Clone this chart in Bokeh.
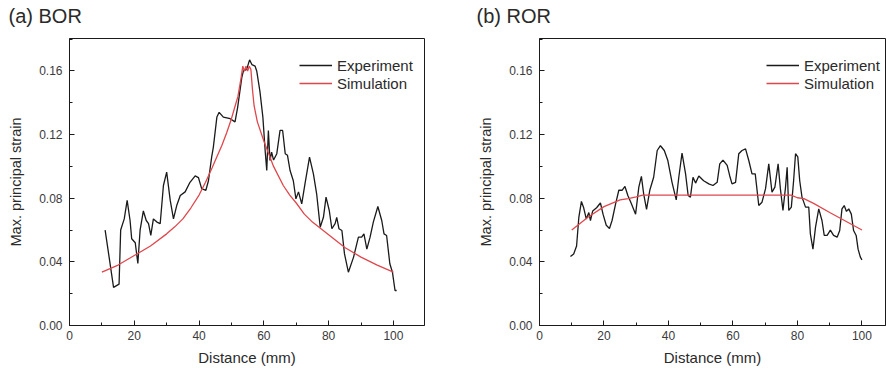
from bokeh.plotting import figure
from bokeh.layouts import row
from bokeh.models import (FixedTicker, PrintfTickFormatter, Legend, LegendItem, Range1d, Title)
from bokeh.embed import file_html
from bokeh.resources import INLINE

# ---------------- data ----------------
bor_exp_x = [11.0, 13.6, 15.3, 15.8, 16.9, 17.8, 18.7, 19.2, 20.3, 21.1, 21.8, 22.8, 23.7, 24.4, 25.1, 25.9,
             27.0, 28.0, 29.0, 30.0, 31.1, 32.1, 33.1, 34.2, 35.7, 37.2, 38.8, 39.8, 40.8, 42.1, 42.9, 43.9,
             44.4, 45.5, 46.2, 47.5, 49.6, 51.1, 51.9, 53.2, 53.7, 54.7, 55.6, 56.3, 57.3, 57.8, 58.8, 59.7,
             60.4, 60.9, 61.4, 61.9, 62.4, 63.0, 64.0, 65.0, 65.8, 66.6, 67.3, 68.1, 69.1, 69.9, 70.7, 71.7,
             72.7, 74.1, 75.3, 76.3, 77.4, 78.4, 79.2, 80.2, 81.0, 82.0, 82.5, 83.2, 84.1, 84.9, 86.1, 87.7,
             89.2, 90.2, 90.9, 91.8, 92.8, 93.8, 95.2, 96.4, 97.1, 97.9, 98.9, 99.7, 100.5, 101.0]
bor_exp_y = [0.060, 0.024, 0.026, 0.060, 0.067, 0.0786, 0.066, 0.0545, 0.052, 0.039, 0.060, 0.072, 0.066, 0.064,
             0.0566, 0.067, 0.065, 0.064, 0.088, 0.0964, 0.0786, 0.067, 0.0754, 0.0817, 0.084, 0.090, 0.094,
             0.093, 0.086, 0.085, 0.091, 0.106, 0.112, 0.131, 0.134, 0.131, 0.130, 0.128, 0.137, 0.156, 0.160,
             0.161, 0.167, 0.164, 0.163, 0.160, 0.147, 0.131, 0.110, 0.0974, 0.1226, 0.1037, 0.109, 0.104,
             0.108, 0.1226, 0.1226, 0.108, 0.107, 0.0974, 0.091, 0.0796, 0.084, 0.0765, 0.089, 0.1058, 0.0953,
             0.0828, 0.0618, 0.068, 0.0807, 0.0723, 0.0608, 0.064, 0.068, 0.0608, 0.0597, 0.045, 0.0335, 0.043,
             0.0555, 0.0555, 0.0576, 0.048, 0.0555, 0.065, 0.0748, 0.066, 0.0576, 0.0566, 0.0388, 0.0335,
             0.022, 0.022]

bor_sim_x = [10, 15, 20, 25, 30, 32.5, 35, 37.5, 40, 42, 44, 45.5, 47, 48.5, 50, 51, 52, 53, 53.5, 54, 54.5,
             55, 55.5, 56, 56.5, 57, 58, 60, 61.5, 63, 66, 68, 70, 72.5, 75, 80, 85, 90, 95, 100]
bor_sim_y = [0.0335, 0.038, 0.044, 0.050, 0.0576, 0.062, 0.067, 0.074, 0.082, 0.090, 0.099, 0.106, 0.113,
             0.121, 0.130, 0.137, 0.144, 0.156, 0.163, 0.160, 0.163, 0.160, 0.163, 0.161, 0.148, 0.138, 0.128,
             0.116, 0.108, 0.100, 0.088, 0.082, 0.077, 0.070, 0.065, 0.057, 0.049, 0.043, 0.038, 0.0335]

ror_exp_x = [9.6, 10.6, 11.5, 12.2, 13.0, 13.7, 14.5, 15.3, 15.8, 16.5, 17.7, 18.9, 19.7, 20.7, 21.7, 22.5,
             23.6, 24.6, 25.6, 26.5, 27.4, 28.5, 29.8, 30.8, 31.6, 32.3, 33.2, 34.2, 35.4, 36.5, 37.5, 38.7,
             39.8, 41.1, 42.4, 43.2, 44.2, 45.3, 46.1, 46.8, 47.6, 48.4, 49.4, 50.9, 52.5, 53.8, 55.1, 55.9,
             56.9, 58.2, 59.0, 59.7, 60.8, 61.8, 62.8, 63.9, 64.9, 65.9, 66.9, 68.0, 69.0, 70.1, 71.1, 72.1,
             73.0, 74.0, 74.7, 75.5, 76.3, 76.8, 77.3, 78.1, 78.8, 79.4, 80.1, 80.7, 81.4, 82.5, 83.5, 84.0,
             84.8, 85.6, 86.6, 87.6, 88.3, 89.2, 90.2, 91.2, 92.3, 93.1, 93.8, 94.5, 95.2, 95.9, 96.7, 97.4,
             98.2, 98.8, 99.5, 100.0]
ror_exp_y = [0.0434, 0.045, 0.050, 0.068, 0.078, 0.074, 0.067, 0.071, 0.066, 0.072, 0.074, 0.077, 0.070, 0.063,
             0.061, 0.066, 0.0765, 0.085, 0.085, 0.0874, 0.0817, 0.0765, 0.070, 0.087, 0.0937, 0.0828, 0.073,
             0.085, 0.0932, 0.110, 0.113, 0.110, 0.1037, 0.090, 0.079, 0.0932, 0.1083, 0.0953, 0.0817, 0.0807,
             0.0932, 0.0895, 0.094, 0.091, 0.089, 0.088, 0.090, 0.1016, 0.104, 0.1006, 0.094, 0.089, 0.090,
             0.108, 0.110, 0.111, 0.1037, 0.0953, 0.0953, 0.0754, 0.0775, 0.086, 0.1016, 0.0838, 0.087, 0.1016,
             0.086, 0.0723, 0.087, 0.0995, 0.0723, 0.0744, 0.091, 0.108, 0.106, 0.091, 0.0807, 0.0744, 0.0744,
             0.0576, 0.048, 0.0618, 0.0733, 0.066, 0.0566, 0.0566, 0.060, 0.0566, 0.0555, 0.0597, 0.0733,
             0.0754, 0.0717, 0.0733, 0.070, 0.0597, 0.0566, 0.048, 0.043, 0.0413]

ror_sim_x = [10, 15, 20, 25, 27.5, 30, 32, 40, 50, 60, 70, 78, 80, 82, 85, 90, 95, 100]
ror_sim_y = [0.060, 0.068, 0.0747, 0.079, 0.0798, 0.0808, 0.082, 0.082, 0.082, 0.082, 0.082, 0.082, 0.0803,
             0.0797, 0.0768, 0.071, 0.0655, 0.060]

x_major = [0, 20, 40, 60, 80, 100]
x_minor = [10, 30, 50, 70, 90, 110]
y_major = [0.00, 0.04, 0.08, 0.12, 0.16]
y_minor = [0.02, 0.06, 0.10, 0.14, 0.18]

panel_titles = ["(a) BOR", "(b) ROR"]
series_names = ["Experiment", "Simulation"]
x_title = "Distance (mm)"
y_title = "Max. principal strain"

FONT = "Liberation Sans"
TXT = "#2a2a2a"
BLACK = "#1a1a1a"
RED = "#e0474c"


def make_panel(title, ex, ey, sx, sy, x_end, border_left, border_right, leg_x, title_offset):
    p = figure(width=443, height=371, output_backend="svg", toolbar_location=None,
               x_range=Range1d(0, x_end), y_range=Range1d(0, 0.1804),
               min_border_left=border_left, min_border_right=border_right,
               min_border_top=38, min_border_bottom=46, title=title)
    p.title.align = "left"
    p.title.offset = title_offset
    p.title.text_font = FONT
    p.title.text_font_size = "20px"
    p.title.text_font_style = "normal"
    p.title.text_color = TXT
    p.title.standoff = 4
    p.title.vertical_align = "middle"
    # small spacer between the panel title and the frame
    p.add_layout(Title(text=" ", text_font_size="1px", standoff=6), "above")

    p.xgrid.visible = False
    p.ygrid.visible = False
    p.outline_line_color = BLACK
    p.outline_line_width = 1
    p.background_fill_color = "white"
    p.border_fill_color = "white"

    for ax in (p.xaxis[0], p.yaxis[0]):
        ax.axis_line_color = BLACK
        ax.major_tick_line_color = BLACK
        ax.minor_tick_line_color = BLACK
        ax.major_tick_in = 5
        ax.major_tick_out = 0
        ax.minor_tick_in = 3
        ax.minor_tick_out = 0
        ax.major_label_text_font = FONT
        ax.major_label_text_font_size = "12px"
        ax.major_label_text_color = "#3a3a3a"
        ax.axis_label_text_font = FONT
        ax.axis_label_text_font_style = "normal"
        ax.axis_label_text_color = TXT

    p.xaxis.ticker = FixedTicker(ticks=x_major, minor_ticks=x_minor)
    p.yaxis.ticker = FixedTicker(ticks=y_major, minor_ticks=y_minor)
    p.yaxis.formatter = PrintfTickFormatter(format="%.2f")
    p.xaxis.major_label_standoff = 5
    p.yaxis.major_label_standoff = 7
    p.xaxis.axis_label = x_title
    p.yaxis.axis_label = y_title
    p.xaxis.axis_label_text_font_size = "15px"
    p.yaxis.axis_label_text_font_size = "14.5px"
    p.xaxis.axis_label_standoff = 6
    p.yaxis.axis_label_standoff = 12

    r_exp = p.line(ex, ey, line_color=BLACK, line_width=1.3)
    r_sim = p.line(sx, sy, line_color=RED, line_width=1.3)

    legend = Legend(items=[LegendItem(label=series_names[0], renderers=[r_exp]),
                           LegendItem(label=series_names[1], renderers=[r_sim])],
                    location=(leg_x, 228))
    legend.background_fill_alpha = 0
    legend.border_line_alpha = 0
    legend.label_text_font = FONT
    legend.label_text_font_size = "15px"
    legend.label_text_color = TXT
    legend.glyph_width = 33
    legend.glyph_height = 18
    legend.label_height = 18
    legend.label_standoff = 5
    legend.spacing = 0
    legend.padding = 5
    legend.margin = 0
    p.add_layout(legend, "center")
    return p


p1 = make_panel(panel_titles[0], bor_exp_x, bor_exp_y, bor_sim_x, bor_sim_y, 109.6, 69, 19, 225, -61)
p2 = make_panel(panel_titles[1], ror_exp_x, ror_exp_y, ror_sim_x, ror_sim_y, 107.3, 96, 1, 222, -63)

layout = row(p1, p2)
open("out.html", "w").write(file_html(layout, INLINE))
